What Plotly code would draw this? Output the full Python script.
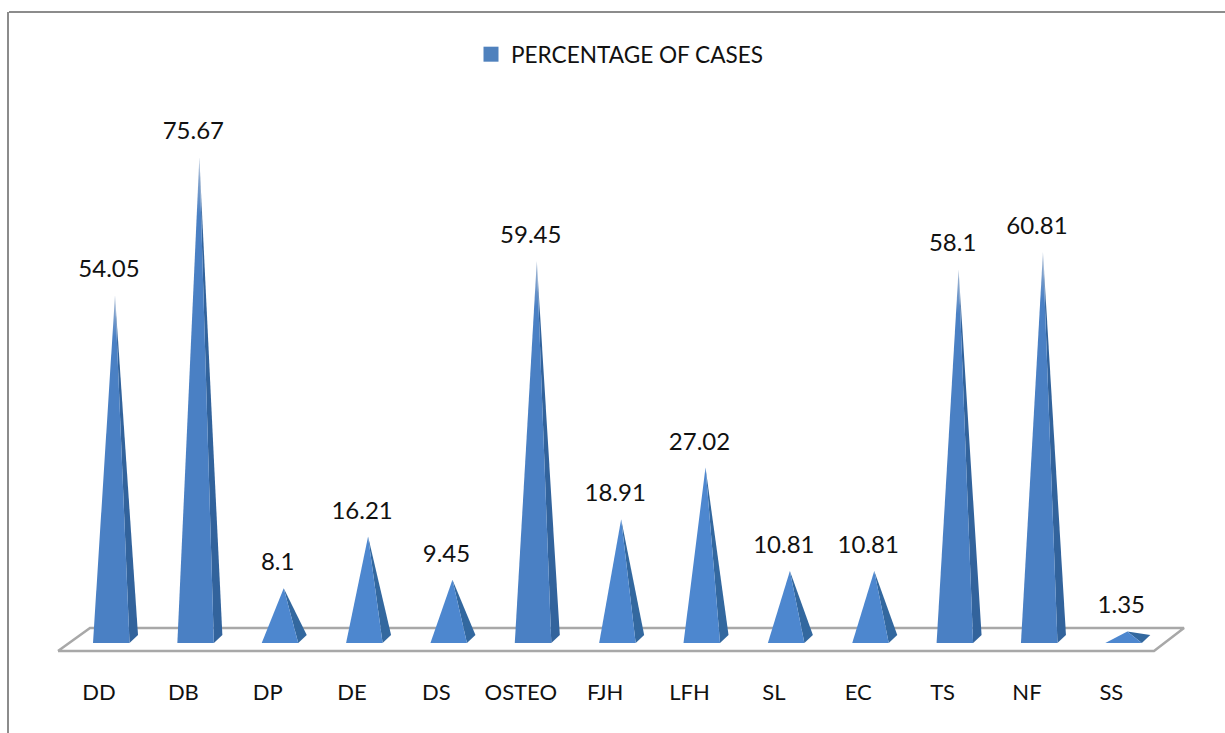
import plotly.graph_objects as go

categories = ["DD", "DB", "DP", "DE", "DS", "OSTEO", "FJH", "LFH", "SL", "EC", "TS", "NF", "SS"]
values = [54.05, 75.67, 8.1, 16.21, 9.45, 59.45, 18.91, 27.02, 10.81, 10.81, 58.1, 60.81, 1.35]
series_name = "PERCENTAGE OF CASES"

W, H = 1225, 733
PX_X = 84.36          # pixels per category
PX_Y = 6.38           # pixels per percentage point
X0_PX, Y0_PX = 115, 640
AXIS_PX = 660


def ux(px):
    return px / PX_X


def uy(px):
    return px / PX_Y


FONT = "Lato, Carlito, Calibri, sans-serif"
FRONT = "#4a80c4"
SIDE = "#32639c"
FRONT_SHORT = "#4d87cf"
SIDE_SHORT = "#33689f"
TIP = "#a9bbd3"

fig = go.Figure()

# floor of the 3D chart, in axis units relative to the first category
floor_x = [ux(58 - X0_PX), ux(90 - X0_PX), ux(1184 - X0_PX), ux(1154 - X0_PX), ux(58 - X0_PX)]
floor_y = [uy(Y0_PX - 651), uy(Y0_PX - 628), uy(Y0_PX - 628), uy(Y0_PX - 651), uy(Y0_PX - 651)]
fig.add_trace(go.Scatter(x=floor_x, y=floor_y, mode="lines", showlegend=False, hoverinfo="skip",
                         line=dict(color="#a8a8a8", width=2.5)))

base_front = uy(Y0_PX - 643)
base_back = uy(Y0_PX - 635)
for i, (c, v) in enumerate(zip(categories, values)):
    left, right, back = i - ux(22), i + ux(14.5), i + ux(23)
    tall = v > 30
    grad_side = dict(type="vertical", colorscale=[[0, SIDE], [0.85, SIDE], [1, TIP]]) if tall else None
    fig.add_trace(go.Scatter(
        x=[right, back, i, right], y=[base_front, base_back, v, base_front],
        mode="lines", fill="toself", fillcolor=SIDE_SHORT if not tall else None, fillgradient=grad_side,
        line=dict(width=0, color=SIDE), showlegend=False, hoverinfo="skip"))
    grad = dict(type="vertical", colorscale=[[0, FRONT], [0.88, FRONT], [1, TIP]]) if tall else None
    fig.add_trace(go.Scatter(
        x=[left, right, i, left], y=[base_front, base_front, v, base_front],
        mode="lines", fill="toself", fillcolor=FRONT_SHORT if not tall else None, fillgradient=grad,
        line=dict(width=0, color=FRONT), showlegend=False, name=c, hoverinfo="skip"))

# data labels
fig.add_trace(go.Scatter(
    x=[i - ux(6) for i in range(len(categories))], y=[v + uy(12) for v in values],
    mode="text", text=[str(v) for v in values], textposition="top center",
    textfont=dict(family=FONT, size=24, color="#111111"), showlegend=False, hoverinfo="skip"))

# legend entry
fig.add_trace(go.Scatter(x=[None], y=[None], mode="markers", name=series_name,
                         marker=dict(symbol="square", size=15, color="#4f81bd")))

fig.update_layout(
    width=W, height=H, margin=dict(l=0, r=0, t=0, b=H - AXIS_PX),
    paper_bgcolor="white", plot_bgcolor="white",
    font=dict(family=FONT, size=22, color="#111111"),
    legend=dict(x=471 / W, y=(AXIS_PX - 33) / AXIS_PX, xanchor="left", yanchor="top",
                orientation="h", font=dict(family=FONT, size=22.6), itemwidth=30,
                bgcolor="rgba(0,0,0,0)"),
    xaxis=dict(range=[ux(-X0_PX), ux(W - X0_PX)], showgrid=False, zeroline=False, showline=False,
               tickmode="array", tickvals=[i - ux(16) for i in range(len(categories))],
               ticktext=categories, ticks="", ticklabelstandoff=17,
               tickfont=dict(family=FONT, size=22, color="#111111")),
    yaxis=dict(range=[uy(Y0_PX - AXIS_PX), uy(Y0_PX)], visible=False),
    shapes=[
        dict(type="line", xref="paper", yref="paper", x0=9 / W, x1=1, y0=(AXIS_PX - 12) / AXIS_PX,
             y1=(AXIS_PX - 12) / AXIS_PX, line=dict(color="#8c8c8c", width=2)),
        dict(type="line", xref="paper", yref="paper", x0=8 / W, x1=8 / W, y0=(AXIS_PX - 12) / AXIS_PX,
             y1=(AXIS_PX - H) / AXIS_PX, line=dict(color="#8c8c8c", width=2)),
    ],
)

fig.write_html("out.html", config=dict(displayModeBar=False),
               post_script="document.body.style.margin='0';document.body.style.overflow='hidden';")
